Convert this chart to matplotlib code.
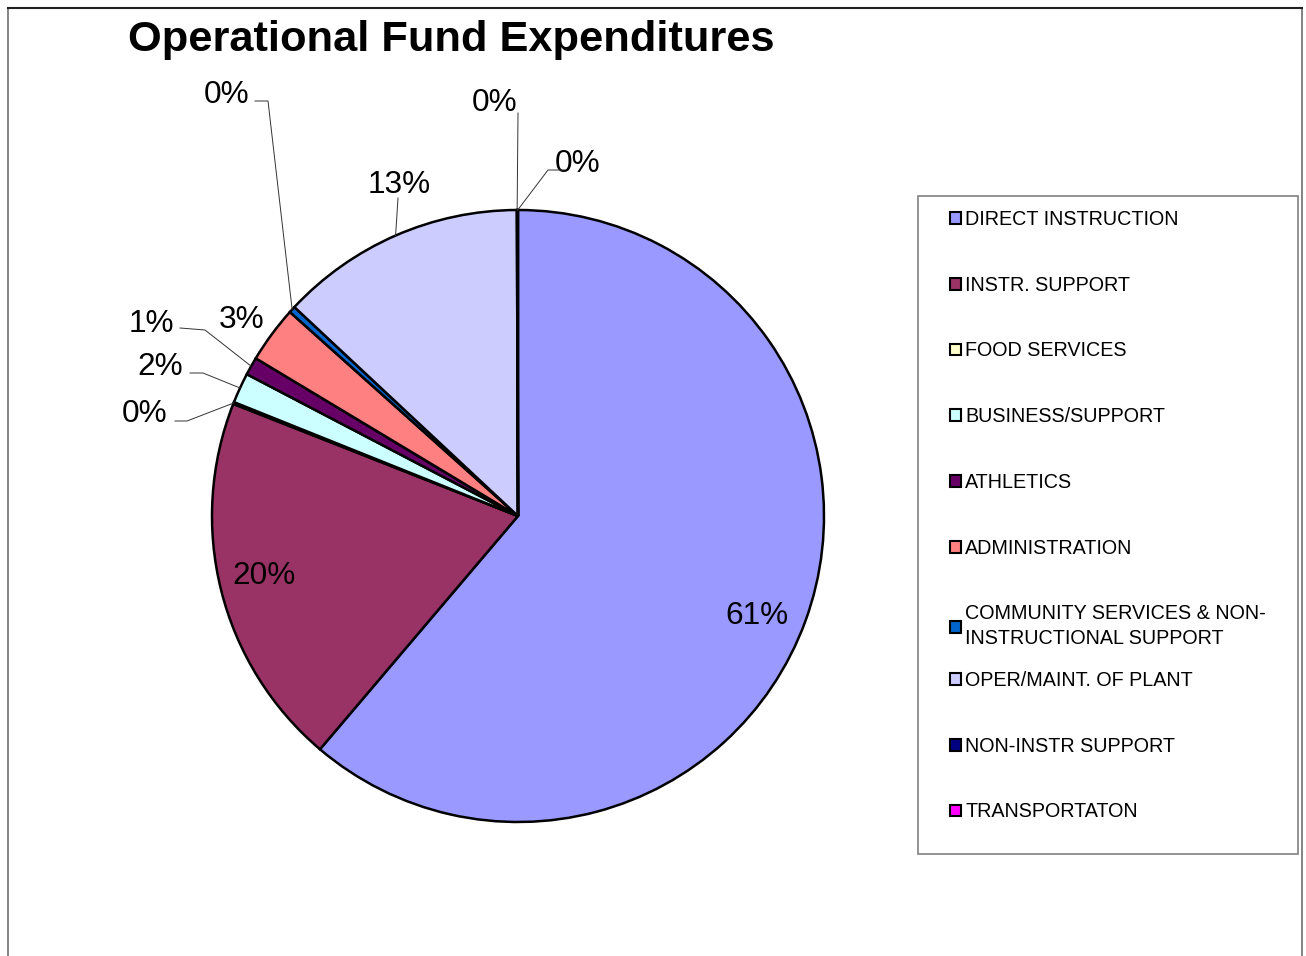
import matplotlib
matplotlib.use("Agg")
import matplotlib.pyplot as plt
from matplotlib.patches import Rectangle
import numpy as np

plt.rcParams['font.family'] = ['Liberation Sans', 'DejaVu Sans']

# ---- data ----
categories = ["DIRECT INSTRUCTION", "INSTR. SUPPORT", "FOOD SERVICES",
              "BUSINESS/SUPPORT", "ATHLETICS", "ADMINISTRATION",
              "COMMUNITY SERVICES & NON-\nINSTRUCTIONAL SUPPORT",
              "OPER/MAINT. OF PLANT", "NON-INSTR SUPPORT", "TRANSPORTATON"]
values = [61.3, 19.8, 0.1, 1.6, 0.95, 3.0, 0.35, 13.0, 0.03, 0.03]
colors = ["#9999FF", "#993366", "#FFFFCC", "#CCFFFF", "#660066",
          "#FF8080", "#0066CC", "#CCCCFF", "#000080", "#FF00FF"]

W, H = 1306, 956
fig = plt.figure(figsize=(W / 100, H / 100), dpi=100)
ax = fig.add_axes([0, 0, 1, 1])

def P(x, y):
    """pixel (top-left origin) -> data coords"""
    return x, H - y

cx, cy = P(518, 516)
R = 306
wedges, _ = ax.pie(values, colors=colors, startangle=90, counterclock=False,
                   center=(cx, cy), radius=R,
                   wedgeprops=dict(edgecolor="black", linewidth=1.8))
ax.set_xlim(0, W)
ax.set_ylim(0, H)
ax.set_aspect("equal")
ax.axis("off")

# label layout (pixel positions of label centres, optional elbow point)
label_pos = [
    ((757, 613), None, False),
    ((264, 573), None, False),
    ((145, 411), [(175, 421), (187, 421)], True),
    ((160, 364), [(190, 373), (203, 373)], True),
    ((151, 321), [(180, 328), (205, 330)], True),
    ((242, 317), None, False),
    ((227, 92), [(255, 101), (268, 101)], True),
    ((399, 182), [(398, 198)], True),
    ((495, 100), [(518, 113)], True),
    ((578, 161), [(565, 170), (548, 170)], True),
]
text_dy = 3  # vertical nudge (px) for label glyph centring

total = sum(values)
for w, v, (lp, elbow, leader) in zip(wedges, values, label_pos):
    txt = f"{v / total * 100:.0f}%"
    ax.text(*P(lp[0], lp[1] + text_dy), txt, ha="center", va="center",
            fontsize=22.7, color="black")
    if leader:
        mid = np.deg2rad((w.theta1 + w.theta2) / 2)
        ex, ey = cx + R * np.cos(mid), cy + R * np.sin(mid)
        pts = [P(*p) for p in elbow] + [(ex, ey)]
        xs = [p[0] for p in pts]
        ys = [p[1] for p in pts]
        ax.plot(xs, ys, color="#333333", lw=0.7, zorder=5)

# title
fig.text(128 / W, 1 - 40 / H, "Operational Fund Expenditures",
         ha="left", va="center", fontsize=31.2, fontweight="bold")

# legend frame
lx0, ly0 = P(918, 854)
ax.add_patch(Rectangle((lx0, ly0), 1298 - 918, 854 - 196, fill=False,
                       edgecolor="#808080", lw=1.2, zorder=1))

leg_kw = dict(loc="upper left", frameon=False, fontsize=14.2,
              handlelength=0.55, handleheight=0.55, handletextpad=0.22,
              labelspacing=2.37, borderpad=0, borderaxespad=0)
split = 7
leg1 = ax.legend(wedges[:split], categories[:split],
                 bbox_to_anchor=(950 / W, 1 - 210 / H), **leg_kw)
ax.add_artist(leg1)
leg2 = ax.legend(wedges[split:], categories[split:],
                 bbox_to_anchor=(950 / W, 1 - 671 / H), **leg_kw)
for leg in (leg1, leg2):
    for h in leg.legend_handles:
        h.set_linewidth(1.5)
        h.set_edgecolor("black")
    for t in leg.get_texts():
        t.set_linespacing(1.4)

# outer frame
ax.add_patch(Rectangle(P(8, 1000), 1302 - 8, 992, fill=False,
                       edgecolor="#707070", lw=1.2, zorder=0, clip_on=False))
ax.plot([8, 1302], [H - 8, H - 8], color="#202020", lw=1.5)

fig.savefig("out.png", dpi=100)
